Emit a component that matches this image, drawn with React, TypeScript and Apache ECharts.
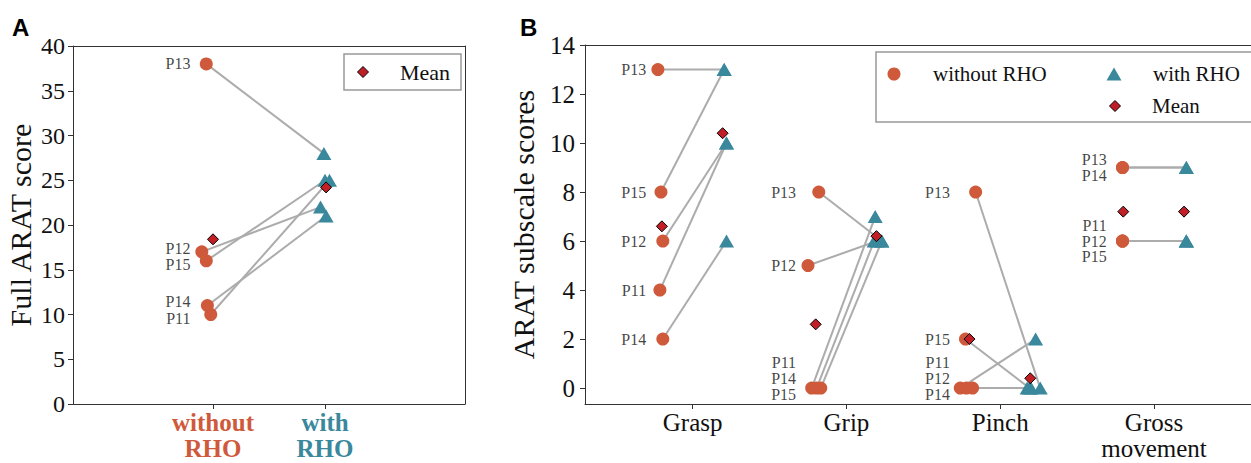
import React, { useEffect, useRef } from 'react';
import * as echarts from 'echarts';

// ---------------- data ----------------
const participants = ['P11', 'P12', 'P13', 'P14', 'P15'];
const conditions = ['without RHO', 'with RHO'];
const fullWithout = [10, 17, 38, 11, 16];
const fullWith = [25, 22, 28, 21, 25];
const fullTicks = [0, 5, 10, 15, 20, 25, 30, 35, 40];

const subscales = ['Grasp', 'Grip', 'Pinch', 'Gross\nmovement'];
const graspWithout = [4, 6, 13, 2, 8];
const graspWith = [10, 10, 13, 6, 13];
const gripWithout = [0, 5, 8, 0, 0];
const gripWith = [7, 6, 6, 6, 6];
const pinchWithout = [0, 0, 8, 0, 2];
const pinchWith = [2, 0, 0, 0, 0];
const grossWithout = [6, 6, 9, 9, 6];
const grossWith = [6, 6, 9, 9, 6];
const subTicks = [0, 2, 4, 6, 8, 10, 12, 14];

// ---------------- layout (jitter, not values) ----------------
const jitterFullWithout = [-0.02, -0.1, -0.06, -0.05, -0.06];
const jitterFullWith = [0.04, -0.04, -0.01, 0.01, 0.0];
const jitterSubWithout = [
  [-0.013, 0.006, -0.026, 0.006, -0.006],
  [-0.026, -0.05, 0.02, 0.006, 0.033],
  [-0.06, 0.02, 0.04, -0.02, -0.026],
  [-0.005, -0.005, -0.005, -0.005, -0.005],
];
const jitterSubWith = [
  [0.02, 0.02, 0.005, 0.02, 0.005],
  [-0.013, 0.0, 0.03, -0.02, 0.03],
  [0.03, -0.025, 0.06, 0.0, -0.01],
  [0.01, 0.01, 0.01, 0.01, 0.01],
];
const subLabelAnchor = [-0.195, -0.22, -0.22, -0.2];

const ORANGE = '#cf5a3b';
const TEAL = '#3a889c';
const MEANRED = '#c21e26';
const LINEGRAY = '#acacac';
const FONT = '"Liberation Serif", "Times New Roman", serif';

const mean = (a: number[]) => a.reduce((s, v) => s + v, 0) / a.length;

function labelPositions(vals: number[], step: number, minY: number | null) {
  const order = vals.map((v, i) => i).sort((a, b) => vals[b] - vals[a] || a - b);
  const clusters: number[][] = [];
  order.forEach((i) => {
    const last = clusters[clusters.length - 1];
    if (last && vals[last[last.length - 1]] - vals[i] < step) last.push(i);
    else clusters.push([i]);
  });
  const ys: number[] = new Array(vals.length).fill(0);
  clusters.forEach((c) => {
    const center = mean(c.map((i) => vals[i]));
    const pos = c.map((_, k) => center + ((c.length - 1) / 2 - k) * step);
    let shift = 0;
    if (minY !== null) {
      const lo = Math.min(...pos);
      if (lo < minY) shift = minY - lo;
    }
    c.forEach((i, k) => (ys[i] = pos[k] + shift));
  });
  return ys;
}

function buildPair(
  xi: number,
  yi: number,
  cat: number,
  offW: number,
  offR: number,
  w: number[],
  r: number[],
  jw: number[],
  jr: number[],
  meanOffW: number,
  meanOffR: number,
  labelX: number,
  step: number,
  minY: number | null
) {
  const series: any[] = [];
  participants.forEach((p, i) => {
    series.push({
      type: 'line',
      xAxisIndex: xi,
      yAxisIndex: yi,
      data: [
        [cat + offW + jw[i], w[i]],
        [cat + offR + jr[i], r[i]],
      ],
      symbol: 'none',
      silent: true,
      lineStyle: { color: LINEGRAY, width: 2 },
      z: 1,
    });
  });
  series.push({
    type: 'scatter',
    name: conditions[0],
    xAxisIndex: xi,
    yAxisIndex: yi,
    symbol: 'circle',
    symbolSize: 13,
    itemStyle: { color: ORANGE, opacity: 1 },
    data: participants.map((p, i) => ({ name: p, value: [cat + offW + jw[i], w[i]] })),
    z: 3,
  });
  series.push({
    type: 'scatter',
    name: conditions[1],
    xAxisIndex: xi,
    yAxisIndex: yi,
    symbol: 'triangle',
    symbolSize: [15, 13],
    itemStyle: { color: TEAL, opacity: 1 },
    data: participants.map((p, i) => ({ name: p, value: [cat + offR + jr[i], r[i]] })),
    z: 3,
  });
  series.push({
    type: 'scatter',
    name: 'Mean',
    xAxisIndex: xi,
    yAxisIndex: yi,
    symbol: 'diamond',
    symbolSize: 11,
    itemStyle: { color: MEANRED, borderColor: '#000', borderWidth: 1, opacity: 1 },
    data: [
      [cat + offW + meanOffW, mean(w)],
      [cat + offR + meanOffR, mean(r)],
    ],
    z: 5,
  });
  const ly = labelPositions(w, step, minY);
  series.push({
    type: 'scatter',
    xAxisIndex: xi,
    yAxisIndex: yi,
    symbol: 'circle',
    symbolSize: 1,
    silent: true,
    itemStyle: { color: 'rgba(0,0,0,0)' },
    label: {
      show: true,
      position: 'left',
      distance: 16,
      formatter: '{b}',
      fontFamily: FONT,
      fontSize: 16,
      color: '#111',
    },
    data: participants.map((p, i) => ({ name: p, value: [cat + labelX, ly[i]] })),
    z: 6,
  });
  return series;
}

const axisLineStyle = { color: '#333', width: 1 };
const spineAxis = (gridIndex: number, position: string, min: number, max: number) => ({
  gridIndex,
  type: 'value',
  min,
  max,
  position,
  axisLine: { show: true, onZero: false, lineStyle: axisLineStyle },
  axisTick: { show: false },
  axisLabel: { show: false },
  splitLine: { show: false },
});

export default function App() {
  const ref = useRef<HTMLDivElement>(null);
  useEffect(() => {
    if (!ref.current) return;
    const chart = echarts.init(ref.current, null, { renderer: 'svg' });

    const series: any[] = [];
    series.push(
      ...buildPair(0, 0, 0, 0, 1, fullWithout, fullWith, jitterFullWithout, jitterFullWith, 0, 0.01, -0.054, 1.8, null)
    );
    const subW = [graspWithout, gripWithout, pinchWithout, grossWithout];
    const subR = [graspWith, gripWith, pinchWith, grossWith];
    subscales.forEach((s, c) => {
      series.push(
        ...buildPair(2, 2, c, -0.2, 0.2, subW[c], subR[c], jitterSubWithout[c], jitterSubWith[c], 0, -0.005, subLabelAnchor[c], 0.65, -0.25)
      );
    });

    const lf = (size: number) => `${size}px "Liberation Serif"`;

    chart.setOption({
      animation: false,
      textStyle: { fontFamily: FONT },
      grid: [
        { left: 73, top: 46, width: 392, height: 358, containLabel: false, outerBoundsMode: 'none' },
        { left: 585, top: 45, width: 669, height: 359, containLabel: false, outerBoundsMode: 'none' },
      ],
      xAxis: [
        {
          gridIndex: 0,
          type: 'value',
          min: -1.25,
          max: 2.25,
          position: 'bottom',
          axisLine: { show: true, onZero: false, lineStyle: axisLineStyle },
          axisTick: { show: true, customValues: [0, 1], length: 5, lineStyle: axisLineStyle },
          axisLabel: {
            customValues: [0, 1],
            margin: 5,
            formatter: (v: number) => (v < 0.5 ? '{a|without}\n{a|RHO}' : '{b|with}\n{b|RHO}'),
            rich: {
              a: { color: ORANGE, fontWeight: 'bold', fontSize: 25, lineHeight: 26, fontFamily: FONT },
              b: { color: TEAL, fontWeight: 'bold', fontSize: 25, lineHeight: 26, fontFamily: FONT },
            },
          },
          splitLine: { show: false },
        },
        spineAxis(0, 'top', -1.25, 2.25),
        {
          gridIndex: 1,
          type: 'value',
          min: -0.7,
          max: 3.65,
          position: 'bottom',
          axisLine: { show: true, onZero: false, lineStyle: axisLineStyle },
          axisTick: { show: true, customValues: [0, 1, 2, 3], length: 5, lineStyle: axisLineStyle },
          axisLabel: {
            customValues: [0, 1, 2, 3],
            margin: 5,
            formatter: (v: number) => '{t|' + subscales[Math.round(v)].split('\n').join('}\n{t|') + '}',
            rich: {
              t: { color: '#111', fontSize: 25, lineHeight: 26, fontFamily: FONT },
            },
          },
          splitLine: { show: false },
        },
        spineAxis(1, 'top', -0.7, 3.65),
      ],
      yAxis: [
        {
          gridIndex: 0,
          type: 'value',
          min: 0,
          max: 40,
          axisLine: { show: true, onZero: false, lineStyle: axisLineStyle },
          axisTick: { show: true, customValues: fullTicks, length: 5, lineStyle: axisLineStyle },
          axisLabel: {
            customValues: fullTicks,
            margin: 8,
            formatter: (v: number) => '{t|' + v + '}',
            rich: { t: { fontSize: 24, color: '#111', fontFamily: FONT } },
          },
          splitLine: { show: false },
          name: 'Full ARAT score',
          nameLocation: 'middle',
          nameGap: 38,
          nameTextStyle: { fontSize: 30, color: '#111', fontFamily: FONT },
        },
        spineAxis(0, 'right', 0, 40),
        {
          gridIndex: 1,
          type: 'value',
          min: -0.65,
          max: 14,
          axisLine: { show: true, onZero: false, lineStyle: axisLineStyle },
          axisTick: { show: true, customValues: subTicks, length: 5, lineStyle: axisLineStyle },
          axisLabel: {
            customValues: subTicks,
            margin: 10,
            formatter: (v: number) => '{t|' + v + '}',
            rich: { t: { fontSize: 25, color: '#111', fontFamily: FONT } },
          },
          splitLine: { show: false },
          name: 'ARAT subscale scores',
          nameLocation: 'middle',
          nameGap: 47,
          nameTextStyle: { fontSize: 30, color: '#111', fontFamily: FONT },
        },
      ],
      graphic: [
        { type: 'text', left: 12, top: 15, style: { text: 'A', font: 'bold 24px "Liberation Sans"', fill: '#000' } },
        { type: 'text', left: 520, top: 15, style: { text: 'B', font: 'bold 24px "Liberation Sans"', fill: '#000' } },
        // legend A
        {
          type: 'rect',
          shape: { x: 344, y: 54, width: 117, height: 36 },
          style: { fill: '#fff', stroke: '#999', lineWidth: 1.5 },
          z: 10,
        },
        {
          type: 'polygon',
          shape: { points: [[363, 66.5], [368.5, 72], [363, 77.5], [357.5, 72]] },
          style: { fill: MEANRED, stroke: '#000', lineWidth: 1 },
          z: 11,
        },
        {
          type: 'text',
          x: 400,
          y: 72,
          style: { font: lf(22), fill: '#111', text: 'Mean', verticalAlign: 'middle' },
          z: 11,
        },
        // legend B
        {
          type: 'rect',
          shape: { x: 876, y: 52, width: 390, height: 70 },
          style: { fill: '#fff', stroke: '#999', lineWidth: 1.5 },
          z: 10,
        },
        { type: 'circle', shape: { cx: 894, cy: 74, r: 6.5 }, style: { fill: ORANGE }, z: 11 },
        { type: 'text', x: 933, y: 74, style: { font: lf(21), fill: '#111', text: 'without RHO', verticalAlign: 'middle' }, z: 11 },
        {
          type: 'polygon',
          shape: { points: [[1114, 67.5], [1121.5, 80.5], [1106.5, 80.5]] },
          style: { fill: TEAL },
          z: 11,
        },
        { type: 'text', x: 1153, y: 74, style: { font: lf(21), fill: '#111', text: 'with RHO', verticalAlign: 'middle' }, z: 11 },
        {
          type: 'polygon',
          shape: { points: [[1115, 100.5], [1120.5, 106], [1115, 111.5], [1109.5, 106]] },
          style: { fill: MEANRED, stroke: '#000', lineWidth: 1 },
          z: 11,
        },
        { type: 'text', x: 1152, y: 106, style: { font: lf(21), fill: '#111', text: 'Mean', verticalAlign: 'middle' }, z: 11 },
      ],
      series,
    });
    return () => chart.dispose();
  }, []);
  return <div ref={ref} style={{ position: 'absolute', left: 0, top: 0, width: 1251, height: 463, background: '#fff' }} />;
}
